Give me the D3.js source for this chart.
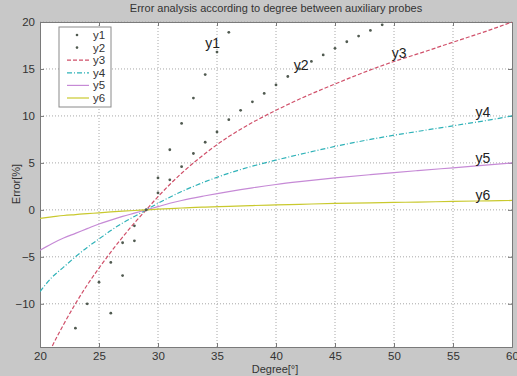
<!DOCTYPE html>
<html>
<head>
<meta charset="utf-8">
<script src="https://cdn.jsdelivr.net/npm/d3@7"></script>
<style>
  body { margin: 0; background: #c8c8c8; }
  svg { display: block; font-family: "Liberation Sans", Arial, sans-serif; }
  .grid line { stroke: #a8a8a8; stroke-dasharray: 1,2; }
</style>
</head>
<body>
<svg id="chart" width="517" height="376"></svg>
<script>
// scatter series
const y1Deg = [26, 27, 28, 29, 30, 31, 32, 33, 34, 35, 36];
const y1Vals = [-11.0, -7.0, -3.3, 0, 3.4, 6.4, 9.2, 11.9, 14.4, 16.8, 18.9];

const y2Deg = [23, 24, 25, 26, 27, 28, 29, 30, 31, 32, 33, 34, 35, 36, 37, 38, 39, 40, 41, 42, 43, 44, 45, 46, 47, 48, 49];
const y2Vals = [-12.6, -10.0, -7.7, -5.6, -3.5, -1.7, 0, 1.8, 3.2, 4.6, 6.0, 7.2, 8.3, 9.6, 10.6, 11.5, 12.4, 13.3, 14.2, 15.0, 15.8, 16.5, 17.2, 17.9, 18.5, 19.1, 19.7];

// line series
const lineDeg = [20, 21, 22, 23, 24, 25, 26, 27, 28, 29, 30, 31, 32, 34, 36, 38, 40, 42, 45, 48, 50, 52, 55, 58, 60];
const y3Vals = [-17.4, -14.6, -12.2, -10.0, -8.0, -6.2, -4.5, -2.9, -1.4, 0, 1.4, 2.7, 3.9, 6.0, 7.8, 9.3, 10.6, 11.8, 13.4, 14.9, 15.8, 16.6, 17.85, 19.1, 20.0];
const y4Vals = [-8.7, -7.2, -6.1, -5.0, -4.0, -3.1, -2.2, -1.4, -0.7, 0, 0.7, 1.35, 1.95, 3.0, 3.9, 4.65, 5.3, 5.9, 6.75, 7.5, 7.95, 8.35, 8.95, 9.55, 10.0];
const y5Vals = [-4.3, -3.6, -3.0, -2.5, -2.0, -1.5, -1.1, -0.7, -0.35, 0, 0.35, 0.7, 1.0, 1.5, 1.95, 2.35, 2.7, 3.0, 3.4, 3.75, 3.97, 4.18, 4.48, 4.78, 5.0];
const y6Vals = [-0.9, -0.75, -0.6, -0.5, -0.4, -0.32, -0.22, -0.14, -0.07, 0, 0.07, 0.13, 0.2, 0.3, 0.38, 0.46, 0.53, 0.59, 0.68, 0.75, 0.79, 0.83, 0.9, 0.96, 1.0];

const xTicks = [20, 25, 30, 35, 40, 45, 50, 55, 60];
const yTicks = [-10, -5, 0, 5, 10, 15, 20];

const seriesNames = ["y1", "y2", "y3", "y4", "y5", "y6"];
const seriesColors = ["#505a50", "#505a50", "#d0506a", "#2fb2b8", "#c68ad6", "#c9c92e"];
const seriesDash = [null, null, "4,2", "5,2,1,2", null, null];

const svg = d3.select("#chart");
const margin = { top: 22, right: 5, bottom: 29, left: 40 };
const width = 517 - margin.left - margin.right;
const height = 376 - margin.top - margin.bottom;

const x = d3.scaleLinear().domain([20, 60]).range([0, width]);
const y = d3.scaleLinear().domain([-14.6, 20]).range([height, 0]);

// title
svg.append("text")
  .attr("x", 276).attr("y", 12)
  .attr("text-anchor", "middle")
  .attr("font-size", 11).attr("fill", "#333")
  .text("Error analysis according to degree between auxiliary probes");

const g = svg.append("g").attr("transform", `translate(${margin.left}, ${margin.top})`);

g.append("rect").attr("width", width).attr("height", height).attr("fill", "#fff");

g.append("defs").append("clipPath").attr("id", "clip")
  .append("rect").attr("width", width).attr("height", height);

// grid
g.append("g").attr("class", "grid")
  .selectAll("line").data(xTicks.slice(1, -1)).join("line")
  .attr("x1", d => x(d)).attr("x2", d => x(d))
  .attr("y1", 0).attr("y2", height);
g.append("g").attr("class", "grid")
  .selectAll("line").data(yTicks).join("line")
  .attr("x1", 0).attr("x2", width)
  .attr("y1", d => y(d)).attr("y2", d => y(d));

// axes
g.append("g").attr("transform", `translate(0, ${height})`)
  .call(d3.axisBottom(x).tickValues(xTicks).tickSize(-4).tickPadding(5));
g.append("g")
  .call(d3.axisLeft(y).tickValues(yTicks).tickSize(-4).tickPadding(5));
g.append("g").attr("transform", `translate(${width}, 0)`)
  .call(d3.axisRight(y).tickValues(yTicks).tickSize(-4).tickFormat(""));
g.append("g")
  .call(d3.axisTop(x).tickValues(xTicks).tickSize(-4).tickFormat(""));

g.selectAll(".domain").attr("stroke", "#7a7a7a");
g.selectAll(".tick line").attr("stroke", "#7a7a7a");
g.selectAll(".tick text").attr("font-size", 11.5).attr("fill", "#333")
  .attr("font-family", "'Liberation Sans', Arial, sans-serif");

svg.append("text")
  .attr("x", 275).attr("y", 373)
  .attr("text-anchor", "middle")
  .attr("font-size", 11).attr("fill", "#333")
  .text("Degree[°]");
svg.append("text")
  .attr("transform", "translate(20, 184) rotate(-90)")
  .attr("text-anchor", "middle")
  .attr("font-size", 11).attr("fill", "#333")
  .text("Error[%]");

// lines
const plot = g.append("g").attr("clip-path", "url(#clip)");
const lineVals = [y3Vals, y4Vals, y5Vals, y6Vals];
const line = d3.line().x(d => x(d[0])).y(d => y(d[1])).curve(d3.curveMonotoneX);
lineVals.forEach((vals, i) => {
  const idx = i + 2;
  plot.append("path")
    .datum(lineDeg.map((d, j) => [d, vals[j]]))
    .attr("fill", "none")
    .attr("stroke", seriesColors[idx])
    .attr("stroke-width", 1.2)
    .attr("stroke-dasharray", seriesDash[idx])
    .attr("d", line);
});

// scatter points
[[y1Deg, y1Vals], [y2Deg, y2Vals]].forEach(([degs, vals], i) => {
  plot.append("g").selectAll("circle")
    .data(degs.map((d, j) => [d, vals[j]]))
    .join("circle")
    .attr("cx", d => x(d[0])).attr("cy", d => y(d[1]))
    .attr("r", 1.4)
    .attr("fill", seriesColors[i]);
});

// series labels
const labels = [
  { t: "y1", deg: 34.0, v: 17.2 },
  { t: "y2", deg: 41.5, v: 14.9 },
  { t: "y3", deg: 49.8, v: 16.2 },
  { t: "y4", deg: 56.9, v: 9.9 },
  { t: "y5", deg: 56.9, v: 5.0 },
  { t: "y6", deg: 56.9, v: 1.1 }
];
g.append("g").selectAll("text").data(labels).join("text")
  .attr("x", d => x(d.deg)).attr("y", d => y(d.v))
  .attr("font-size", 14).attr("fill", "#222")
  .text(d => d.t);

// legend
const legend = g.append("g").attr("transform", "translate(19, 5)");
legend.append("rect")
  .attr("width", 52).attr("height", 80)
  .attr("fill", "#fff").attr("stroke", "#8a8a8a");
seriesNames.forEach((name, i) => {
  const row = legend.append("g").attr("transform", `translate(0, ${8 + i * 12.6})`);
  if (i < 2) {
    row.append("circle").attr("cx", 18).attr("cy", 0).attr("r", 1.3).attr("fill", seriesColors[i]);
  } else {
    row.append("line").attr("x1", 8).attr("x2", 30).attr("y1", 0).attr("y2", 0)
      .attr("stroke", seriesColors[i]).attr("stroke-width", 1.2)
      .attr("stroke-dasharray", seriesDash[i]);
  }
  row.append("text").attr("x", 34).attr("y", 4)
    .attr("font-size", 11.5).attr("fill", "#333").text(name);
});
</script>
</body>
</html>
